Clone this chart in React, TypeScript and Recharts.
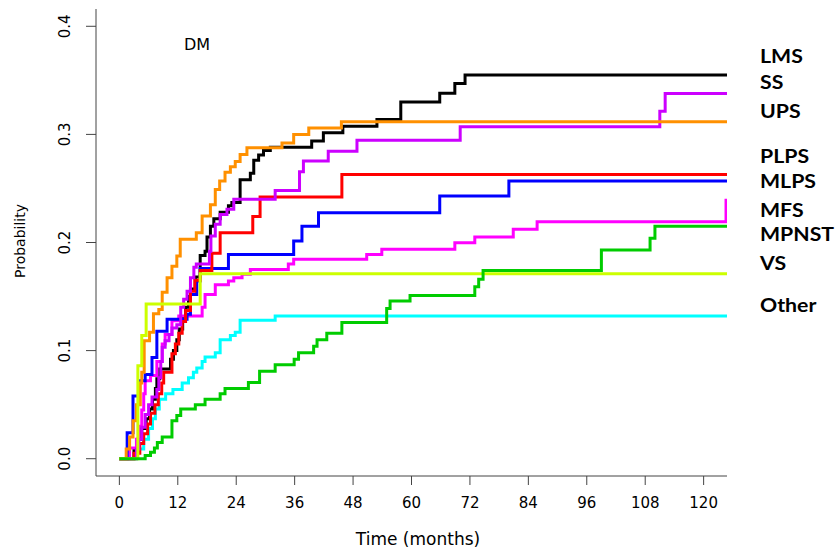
import { Line, LineChart, XAxis, YAxis } from "recharts";

const monthTicks = [0, 12, 24, 36, 48, 60, 72, 84, 96, 108, 120];
const probTicks = [0, 0.1, 0.2, 0.3, 0.4];
const tEnd = 124.8;

// [month, cumulative probability of DM] at each step
const lms = [
  [0, 0], [3.0, 0.009], [3.8, 0.018], [4.6, 0.028], [5.5, 0.037], [6.2, 0.046], [6.8, 0.055],
  [7.4, 0.065], [7.7, 0.074], [8.3, 0.083], [10.5, 0.092], [11.1, 0.1], [11.8, 0.11], [12.3, 0.12],
  [13.0, 0.13], [13.6, 0.14], [14.2, 0.15], [14.6, 0.157], [15.6, 0.168], [16.6, 0.188], [17.6, 0.192],
  [18.0, 0.205], [18.7, 0.215], [19.4, 0.222], [20.7, 0.228], [22.4, 0.234], [23.1, 0.237], [24.8, 0.258],
  [26.9, 0.264], [27.6, 0.276], [28.6, 0.281], [29.6, 0.285], [31.0, 0.288], [39.5, 0.294], [41.9, 0.3015],
  [45.9, 0.3076], [52.9, 0.3138], [57.8, 0.33], [65.8, 0.338], [68.9, 0.347], [71.0, 0.355],
];
const ss = [
  [0, 0], [3.5, 0.009], [4.0, 0.018], [4.6, 0.029], [5.3, 0.041], [6.0, 0.05], [6.7, 0.057], [7.7, 0.064],
  [8.1, 0.075], [8.5, 0.09], [8.8, 0.103], [9.4, 0.109], [10.2, 0.115], [10.8, 0.121], [11.8, 0.124],
  [12.6, 0.14], [13.2, 0.1475], [13.9, 0.155], [14.6, 0.1675], [15.3, 0.177], [15.8, 0.18], [18.5, 0.192],
  [18.8, 0.206], [19.7, 0.2168], [20.7, 0.226], [22.1, 0.2307], [23.5, 0.24], [32.0, 0.248], [37.0, 0.2654],
  [37.8, 0.2753], [42.9, 0.2845], [48.8, 0.2947], [70.0, 0.307], [111.0, 0.3215], [112.1, 0.3378],
];
const ups = [
  [0, 0], [1.4, 0.009], [2.1, 0.02], [2.8, 0.035], [3.5, 0.05], [4.3, 0.07], [4.6, 0.08], [5.1, 0.109],
  [6.2, 0.117], [7.0, 0.134], [8.1, 0.138], [8.8, 0.154], [9.8, 0.1675], [10.8, 0.178], [11.8, 0.1875],
  [12.5, 0.203], [15.8, 0.209], [17.0, 0.2245], [18.7, 0.235], [19.7, 0.249], [20.6, 0.257], [21.7, 0.265],
  [22.8, 0.27], [23.8, 0.275], [24.8, 0.2815], [26.2, 0.2876], [33.4, 0.292], [35.8, 0.2999], [38.9, 0.306],
  [45.6, 0.3117],
];
const plps = [
  [0, 0], [3.0, 0.005], [4.2, 0.014], [5.0, 0.023], [5.8, 0.032], [6.4, 0.042], [7.3, 0.05], [8.0, 0.06],
  [8.7, 0.07], [9.1, 0.08], [10.8, 0.097], [11.5, 0.106], [12.2, 0.116], [12.9, 0.127], [13.6, 0.137],
  [14.6, 0.155], [15.5, 0.165], [16.6, 0.174], [19.0, 0.19], [20.7, 0.209], [27.4, 0.224], [28.9, 0.242],
  [45.7, 0.263],
];
const mlps = [
  [0, 0], [1.6, 0.024], [2.8, 0.058], [4.0, 0.072], [5.3, 0.078], [6.7, 0.0936], [7.7, 0.118], [9.8, 0.129],
  [13.9, 0.1337], [14.6, 0.152], [15.9, 0.1644], [16.6, 0.176], [22.4, 0.189], [35.8, 0.2014], [37.5, 0.215],
  [40.9, 0.2275], [65.8, 0.243], [80.0, 0.2568],
];
const mfs = [
  [0, 0], [2.1, 0.01], [3.5, 0.018], [4.0, 0.03], [4.6, 0.045], [5.0, 0.06], [5.3, 0.072], [6.4, 0.077],
  [7.7, 0.09], [8.8, 0.106], [9.4, 0.115], [10.8, 0.1275], [12.2, 0.132], [17.0, 0.14], [17.6, 0.152],
  [19.7, 0.161], [22.4, 0.1644], [23.5, 0.1675], [25.2, 0.1706], [26.9, 0.175], [34.7, 0.18], [35.8, 0.1845],
  [50.8, 0.189], [53.9, 0.1937], [68.9, 0.1998], [73.0, 0.2051], [80.9, 0.2122], [85.8, 0.2192], [124.6, 0.239],
];
const mpnst = [
  [0, 0], [5.3, 0.003], [6.4, 0.006], [7.2, 0.01], [7.8, 0.015], [8.8, 0.02], [10.8, 0.035], [11.8, 0.04],
  [12.6, 0.046], [15.6, 0.05], [17.6, 0.055], [20.7, 0.06], [21.7, 0.065], [26.5, 0.0705], [28.8, 0.081],
  [32.0, 0.087], [35.9, 0.092], [36.8, 0.098], [39.9, 0.104], [40.6, 0.11], [42.6, 0.116], [45.7, 0.126],
  [54.9, 0.139], [55.6, 0.146], [59.7, 0.151], [73.0, 0.159], [73.8, 0.166], [74.7, 0.174], [99.0, 0.193],
  [109.0, 0.204], [110.0, 0.215],
];
const vs = [[0, 0], [3.8, 0.086], [4.6, 0.114], [5.5, 0.143], [16.6, 0.171]];
const other = [
  [0, 0], [3.5, 0.009], [5.0, 0.018], [6.0, 0.028], [6.8, 0.037], [7.4, 0.046], [8.2, 0.055], [9.5, 0.06],
  [11.0, 0.064], [12.9, 0.07], [14.2, 0.075], [15.2, 0.08], [15.9, 0.084], [17.0, 0.09], [17.6, 0.094],
  [19.7, 0.098], [20.7, 0.11], [22.8, 0.114], [23.8, 0.117], [24.8, 0.128], [32.0, 0.132],
];

const series = [
  { name: "Other", color: "#00ffff", steps: other },
  { name: "LMS", color: "#000000", steps: lms },
  { name: "MFS", color: "#ff00ff", steps: mfs },
  { name: "MLPS", color: "#0000ff", steps: mlps },
  { name: "PLPS", color: "#ff0000", steps: plps },
  { name: "SS", color: "#cc00ff", steps: ss },
  { name: "UPS", color: "#ff9000", steps: ups },
  { name: "VS", color: "#ccff00", steps: vs },
  { name: "MPNST", color: "#00cc00", steps: mpnst },
];

// right-hand labels, top to bottom
const labelNames = ["LMS", "SS", "UPS", "PLPS", "MLPS", "MFS", "MPNST", "VS", "Other"];
const labelCentres = [55, 81, 110, 155, 180, 209, 233, 262, 304];

const toData = (steps: number[][]) => {
  const pts = steps.map(([t, p]) => ({ t, p }));
  pts.push({ t: tEnd, p: steps[steps.length - 1][1] });
  return pts;
};

function YTick({ x, y, payload }: any) {
  const cx = x - 14;
  return (
    <text
      x={cx}
      y={y}
      transform={`rotate(-90 ${cx} ${y})`}
      textAnchor="middle"
      fontSize={15}
      fontFamily="DejaVu Sans"
      fill="#000"
    >
      {Number(payload.value).toFixed(1)}
    </text>
  );
}

export default function App() {
  return (
    <div style={{ position: "absolute", left: 0, top: 0, width: 837, height: 552, background: "#fff" }}>
      <LineChart width={837} height={552} margin={{ top: 9, right: 110, bottom: 36, left: 36 }}>
        <XAxis
          type="number"
          dataKey="t"
          domain={[-4.8, tEnd]}
          ticks={monthTicks}
          allowDataOverflow
          height={40}
          tickSize={9}
          tickMargin={12}
          stroke="#444"
          tick={{ fill: "#000", fontSize: 15, fontFamily: "DejaVu Sans" }}
        />
        <YAxis
          type="number"
          domain={[-0.016, 0.416]}
          ticks={probTicks}
          allowDataOverflow
          width={60}
          tickSize={10}
          stroke="#444"
          tick={<YTick />}
        />
        {series.map((s) => (
          <Line
            key={s.name}
            data={toData(s.steps)}
            dataKey="p"
            type="stepAfter"
            stroke={s.color}
            strokeWidth={3}
            strokeLinejoin="miter"
            dot={false}
            activeDot={false}
            isAnimationActive={false}
          />
        ))}
      </LineChart>
      <div style={{ position: "absolute", left: 184, top: 35, fontFamily: "DejaVu Sans", fontSize: 16 }}>DM</div>
      <div
        style={{
          position: "absolute",
          left: 20,
          top: 241,
          fontFamily: "DejaVu Sans",
          fontSize: 14,
          transform: "translate(-50%, -50%) rotate(-90deg)",
          whiteSpace: "nowrap",
        }}
      >
        Probability
      </div>
      <div
        style={{
          position: "absolute",
          left: 418,
          top: 539,
          fontFamily: "DejaVu Sans",
          fontSize: 17,
          transform: "translate(-50%, -50%)",
          whiteSpace: "nowrap",
        }}
      >
        Time (months)
      </div>
      {labelNames.map((name, i) => (
        <div
          key={name}
          style={{
            position: "absolute",
            left: 760,
            top: labelCentres[i],
            fontFamily: "Lato",
            fontWeight: 700,
            fontSize: 19,
            lineHeight: "15px",
            transform: "translateY(-50%) scaleX(1.12)",
            transformOrigin: "left center",
            whiteSpace: "nowrap",
          }}
        >
          {name}
        </div>
      ))}
    </div>
  );
}
